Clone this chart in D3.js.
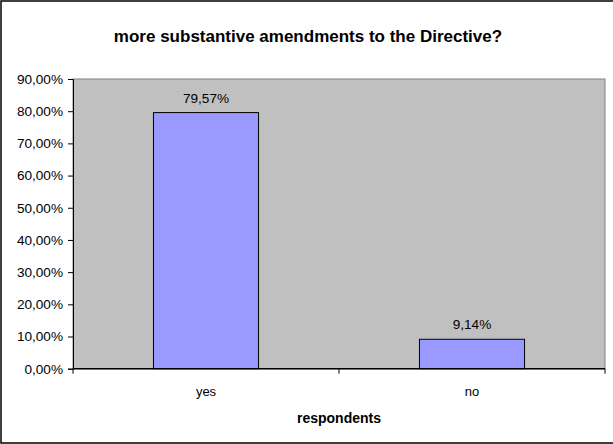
<!DOCTYPE html>
<html><head><meta charset="utf-8">
<script src="https://cdn.jsdelivr.net/npm/d3@7"></script>
<style>body{margin:0;background:#fff}svg{display:block}text{font-family:"Liberation Sans",Arial,sans-serif}</style>
</head><body><svg id="c" width="613" height="444"></svg>
<script>
const categories = ["yes", "no"];
const values = [79.57, 9.14];
const valueLabels = ["79,57%", "9,14%"];
const yTicks = [0, 10, 20, 30, 40, 50, 60, 70, 80, 90];
const yTickLabels = ["0,00%", "10,00%", "20,00%", "30,00%", "40,00%", "50,00%", "60,00%", "70,00%", "80,00%", "90,00%"];
const title = "more substantive amendments to the Directive?";
const xTitle = "respondents";

const svg = d3.select("#c");
const L = 73, R = 605, T = 79, B = 368.7;

svg.append("rect").attr("x", 1).attr("y", 1).attr("width", 613).attr("height", 442)
  .attr("fill", "#fff").attr("stroke", "#000").attr("stroke-width", 1.5);

svg.append("text").attr("x", 308).attr("y", 42).attr("text-anchor", "middle")
  .attr("font-size", 17).attr("font-weight", "bold").text(title);

const x = d3.scaleBand().domain(categories).range([L, R]).paddingInner(0.605).paddingOuter(0.3025);
const x0 = d3.scaleBand().domain(categories).range([L, R]);
const y = d3.scaleLinear().domain([0, 90]).range([B, T]);

svg.append("rect").attr("x", L).attr("y", T).attr("width", R - L).attr("height", B - T)
  .attr("fill", "#c0c0c0").attr("stroke", "#808080").attr("stroke-width", 1);

svg.selectAll("rect.bar").data(values).enter().append("rect").attr("class", "bar")
  .attr("x", (d, i) => x(categories[i])).attr("width", x.bandwidth())
  .attr("y", d => y(d)).attr("height", d => y(0) - y(d))
  .attr("fill", "#9999ff").attr("stroke", "#000").attr("stroke-width", 1);

svg.selectAll("text.vl").data(values).enter().append("text").attr("class", "vl")
  .attr("x", (d, i) => x0(categories[i]) + x0.bandwidth() / 2)
  .attr("y", d => y(d) - 10).attr("text-anchor", "middle").attr("font-size", 13.6)
  .text((d, i) => valueLabels[i]);

// y axis
const yAxis = d3.axisLeft(y).tickValues(yTicks).tickSize(5).tickPadding(5)
  .tickFormat((d, i) => yTickLabels[i]);
const gy = svg.append("g").attr("transform", `translate(${L},0)`).call(yAxis);
gy.select(".domain").attr("stroke", "#000");
gy.selectAll("text").attr("font-size", 13.6).attr("fill", "#000").attr("font-family", "Liberation Sans, Arial, sans-serif");

// x axis
const gx = svg.append("g").attr("transform", `translate(0,${B})`);
gx.append("line").attr("x1", L).attr("x2", R).attr("y1", 0).attr("y2", 0).attr("stroke", "#000").attr("stroke-width", 1.5);
const tickPos = [L, ...categories.slice(1).map(c => x0(c)), R];
gx.selectAll("line.t").data(tickPos).enter().append("line").attr("class", "t")
  .attr("x1", d => d).attr("x2", d => d).attr("y1", 0).attr("y2", 5).attr("stroke", "#000");
gx.selectAll("text").data(categories).enter().append("text")
  .attr("x", d => x0(d) + x0.bandwidth() / 2).attr("y", 27.5).attr("text-anchor", "middle")
  .attr("font-size", 13).text(d => d);

svg.append("text").attr("x", (L + R) / 2).attr("y", 423).attr("text-anchor", "middle")
  .attr("font-size", 14).attr("font-weight", "bold").text(xTitle);
</script></body></html>
